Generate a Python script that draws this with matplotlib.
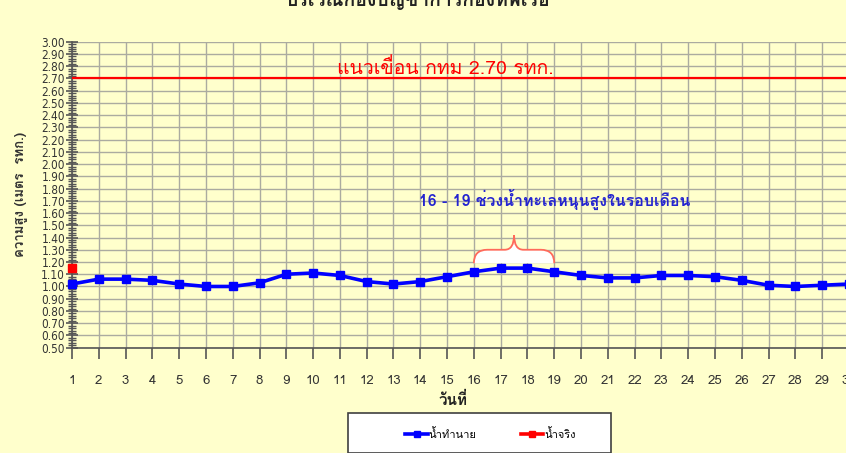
import matplotlib
matplotlib.use("Agg")
import matplotlib.pyplot as plt
from matplotlib.path import Path
from matplotlib.patches import PathPatch, Rectangle
from matplotlib.lines import Line2D
from matplotlib.ticker import MultipleLocator, FormatStrFormatter

plt.rcParams['font.family'] = ['Loma', 'DejaVu Sans']

# ข้อมูล
days = list(range(1, 31))
predicted = [1.02, 1.06, 1.06, 1.05, 1.02, 1.00, 1.00, 1.03, 1.10, 1.11,
             1.09, 1.04, 1.02, 1.04, 1.08, 1.12, 1.15, 1.15, 1.12, 1.09,
             1.07, 1.07, 1.09, 1.09, 1.08, 1.05, 1.01, 1.00, 1.01, 1.02]
actual_days = [1]
actual = [1.15]
dam_level = 2.70
high_tide = (16, 19)

title = "บริเวณกองบัญชาการกองทัพเรือ"
dam_text = "แนวเขื่อน กทม 2.70 รทก."
tide_text = "16 - 19 ช่วงน้ำทะเลหนุนสูงในรอบเดือน"
ylabel = "ความสูง (เมตร  รทก.)"
xlabel = "วันที่"
labels = ["น้ำทำนาย", "น้ำจริง"]

bg = '#FFFFCC'
fig = plt.figure(figsize=(8.46, 4.53), dpi=100, facecolor=bg)
ax = fig.add_axes([0.0851, 0.2325, 0.9184, 0.6755], facecolor=bg)

ax.set_xlim(1, 30)
ax.set_ylim(0.5, 3.0)
ax.xaxis.set_major_locator(MultipleLocator(1))
ax.yaxis.set_major_locator(MultipleLocator(0.1))
ax.yaxis.set_minor_locator(MultipleLocator(0.02))
ax.yaxis.set_major_formatter(FormatStrFormatter('%.2f'))
ax.grid(True, which='major', color='#ABABA0', linewidth=1)
ax.set_axisbelow(True)
for s in ['top', 'right']:
    ax.spines[s].set_visible(False)
for s in ['left', 'bottom']:
    ax.spines[s].set_color('#555555')
    ax.spines[s].set_linewidth(1.2)
ax.tick_params(axis='y', which='major', direction='inout', length=8,
               width=1.2, color='#555555', labelsize=8.5, labelcolor='#333333', pad=1)
ax.tick_params(axis='y', which='minor', direction='inout', length=6,
               width=1, color='#555555')
ax.tick_params(axis='x', which='major', direction='out', length=8,
               width=1.2, color='#555555', labelsize=9.5, labelcolor='#333333', pad=12)
for lab in ax.get_yticklabels():
    lab.set_family(['DejaVu Sans'])
    lab.set_stretch('condensed')

# เส้นแนวเขื่อน
ax.axhline(dam_level, color='#FF0000', linewidth=1.6, zorder=3)
ax.text(14.95, 2.785, dam_text, color='#FF0000', fontsize=14,
        ha='center', va='center', zorder=4)

# วงเล็บปีกกา
x0, x1 = high_tide
xm = (x0 + x1) / 2
yb, ys, yp = 1.19, 1.30, 1.42
verts = [(x0, yb), (x0, ys), (x0 + 0.5, ys), (xm - 0.35, ys),
         (xm, ys), (xm, yp), (xm, ys), (xm + 0.35, ys),
         (x1 - 0.5, ys), (x1, ys), (x1, yb)]
codes = [Path.MOVETO, Path.CURVE3, Path.CURVE3, Path.LINETO,
         Path.CURVE3, Path.CURVE3, Path.CURVE3, Path.CURVE3,
         Path.LINETO, Path.CURVE3, Path.CURVE3]
ax.add_patch(PathPatch(Path(verts + [(x0, yb)], codes + [Path.LINETO]),
                       facecolor='white', edgecolor='none', zorder=2))
ax.add_patch(PathPatch(Path(verts, codes), facecolor='none',
                       edgecolor='#FF6A5A', linewidth=1.3, zorder=3))
ax.text(19.0, 1.707, tide_text, color='#2424D0', fontsize=11.5,
        fontweight='bold', ha='center', va='center', zorder=4)

# ข้อมูลระดับน้ำ
ax.plot(days, predicted, color='#0000FF', linewidth=2.6, marker='s',
        markersize=6, zorder=5, clip_on=False)
ax.plot(actual_days, actual, color='#FF0000', linestyle='none', marker='s',
        markersize=6, zorder=6, clip_on=False)

ax.set_ylabel(ylabel, fontsize=9.5, fontweight='bold', color='#333333', labelpad=10)
ax.set_xlabel(xlabel, fontsize=11, fontweight='bold', color='#222222')
ax.xaxis.set_label_coords(0.4905, -0.145)
fig.text(0.494, 1.0, title, fontsize=14, fontweight='bold', color='#222222',
         ha='center', va='center')

# กรอบคำอธิบาย
fig.patches.append(Rectangle((0.411, 0.0), 0.311, 0.088, transform=fig.transFigure,
                             facecolor='white', edgecolor='#404040', linewidth=1.2))
handles = [Line2D([], [], color='#0000FF', linewidth=2.6, marker='s', markersize=5),
           Line2D([], [], color='#FF0000', linewidth=2.6, marker='s', markersize=5)]
fig.legend(handles, labels, loc='center', ncol=2, frameon=False,
           bbox_to_anchor=(0.58, 0.042), fontsize=8, handlelength=2.0,
           handletextpad=0.1, columnspacing=4.0)

fig.savefig("out.png", dpi=100, facecolor=bg)
